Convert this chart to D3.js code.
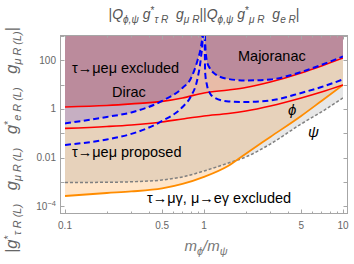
<!DOCTYPE html>
<html>
<head>
<meta charset="utf-8">
<script src="https://cdn.jsdelivr.net/npm/d3@7"></script>
<style>
body { margin: 0; background: #fff; }
svg text { font-family: "Liberation Sans", Arial, sans-serif; }
</style>
</head>
<body>
<svg id="chart" width="354" height="264"></svg>
<script>
// ratio m_phi / m_psi
const xs = [0.1, 0.2, 0.3, 0.5, 0.7, 1, 1.5, 2, 3, 5, 7, 10];
const diracUpper = [1.21, 1.39, 1.61, 2.04, 2.84, 4.55, 6.05, 7.67, 12.9, 30.3, 58.9, 125];
const diracLower = [0.158, 0.19, 0.22, 0.292, 0.388, 0.515, 0.653, 0.828, 1.33, 2.84, 5.0, 9.7];
const phiLine = [2.63e-4, 3.49e-4, 4.03e-4, 5.37e-4, 8.2e-4, 1.6e-3, 4.6e-3, 0.0145, 0.0705, 0.515, 2.13, 9.7];
const psiLine = [9.44e-4, 9.6e-4, 1.01e-3, 1.2e-3, 1.6e-3, 2.8e-3, 6.0e-3, 0.0106, 0.036, 0.241, 0.753, 2.84];

// majorana curves blow up at the resonance x = 1, so two branches each
const xsLeft = [0.1, 0.2, 0.3, 0.5, 0.7, 0.8, 0.9, 0.95, 0.98, 0.995];
const majUpperL = [0.253, 0.47, 0.72, 2.13, 7.3, 17, 104, 355, 1500, 1e5];
const majLowerL = [0.033, 0.0556, 0.094, 0.32, 1.2, 3.1, 18.9, 126, 900, 1e5];
const xsRight = [1.005, 1.02, 1.05, 1.1, 1.2, 1.5, 2, 3, 5, 7, 10];
const majUpperR = [1e5, 500, 90, 48, 27.5, 17, 14.9, 16.4, 33, 65, 144];
const majLowerR = [1e5, 30, 9.7, 4.55, 2.84, 2.04, 1.94, 2.24, 4.55, 8.0, 16.4];

const xTicksMajor = [0.1, 0.5, 1, 5, 10];
const xTicksMinor = [0.2, 0.3, 0.4, 0.6, 0.7, 0.8, 0.9, 2, 3, 4, 6, 7, 8, 9];
const yTicks = [1e-4, 1e-3, 1e-2, 1e-1, 1, 10, 100, 1000];
const yLabels = { "0.0001": "10^-4", "0.01": "0.01", "1": "1", "100": "100" };

const svg = d3.select("#chart");

// frame and plot area
const fx0 = 60, fx1 = 348, fy0 = 35, fy1 = 214;
const x = d3.scaleLog().domain([0.1, 10]).range([65, 343]);
const y = d3.scaleLog().domain([Math.pow(10, -4.28), 1000]).range([213, 36]);
const yTop = 30;

svg.append("clipPath").attr("id", "plotClip")
    .append("rect").attr("x", 65).attr("y", 36).attr("width", 278).attr("height", 177);

const pts = (xv, yv) => xv.map((d, i) => [d, yv[i]]);

const areaUp = d3.area()
    .x(d => x(d[0]))
    .y0(d => y(d[1]))
    .y1(yTop)
    .curve(d3.curveMonotoneX);

const line = d3.line()
    .x(d => x(d[0]))
    .y(d => y(d[1]))
    .curve(d3.curveMonotoneX);

const g = svg.append("g").attr("clip-path", "url(#plotClip)");

// light fills above phi and psi
g.append("path").attr("d", areaUp(pts(xs, phiLine)))
    .attr("fill", "rgb(255,150,40)").attr("fill-opacity", 0.25);
g.append("path").attr("d", areaUp(pts(xs, psiLine)))
    .attr("fill", "rgb(128,128,128)").attr("fill-opacity", 0.19);

// excluded by tau -> mu e mu
g.append("path").attr("d", areaUp(pts(xs, diracUpper))).attr("fill", "#e8bba7");
g.append("path").attr("d", areaUp(pts(xsLeft, majUpperL))).attr("fill", "#c6afc2");
g.append("path").attr("d", areaUp(pts(xsRight, majUpperR))).attr("fill", "#c6afc2");

const majClip = svg.append("clipPath").attr("id", "majClip");
majClip.append("path").attr("d", areaUp(pts(xsLeft, majUpperL)));
majClip.append("path").attr("d", areaUp(pts(xsRight, majUpperR)));
g.append("g").attr("clip-path", "url(#majClip)")
    .append("path").attr("d", areaUp(pts(xs, diracUpper))).attr("fill", "#bb8b9c");

// lines
g.append("path").attr("d", line(pts(xs, psiLine)))
    .attr("fill", "none").attr("stroke", "#808080").attr("stroke-width", 1.5).attr("stroke-dasharray", "3,2");
g.append("path").attr("d", line(pts(xs, phiLine)))
    .attr("fill", "none").attr("stroke", "#ff8c00").attr("stroke-width", 1.8);
[diracUpper, diracLower].forEach(v => {
    g.append("path").attr("d", line(pts(xs, v)))
        .attr("fill", "none").attr("stroke", "#ff0000").attr("stroke-width", 1.6);
});
[[xsLeft, majUpperL], [xsLeft, majLowerL], [xsRight, majUpperR], [xsRight, majLowerR]].forEach(c => {
    g.append("path").attr("d", line(pts(c[0], c[1])))
        .attr("fill", "none").attr("stroke", "#0000ff").attr("stroke-width", 2).attr("stroke-dasharray", "6,3.5");
});

// frame
svg.append("rect").attr("x", fx0 + 0.5).attr("y", fy0 + 0.5)
    .attr("width", fx1 - fx0 - 1).attr("height", fy1 - fy0 - 1)
    .attr("fill", "none").attr("stroke", "#a6a6a6");

// ticks on all four sides
const tickCol = "#a6a6a6";
xTicksMajor.concat(xTicksMinor).forEach(t => {
    const len = xTicksMajor.includes(t) ? 4.5 : 2.5;
    const px = Math.round(x(t)) + 0.5;
    svg.append("line").attr("x1", px).attr("x2", px).attr("y1", fy1).attr("y2", fy1 - len).attr("stroke", tickCol);
    svg.append("line").attr("x1", px).attr("x2", px).attr("y1", fy0).attr("y2", fy0 + len).attr("stroke", tickCol);
});
yTicks.forEach(t => {
    const py = Math.round(y(t)) + 0.5;
    svg.append("line").attr("x1", fx0).attr("x2", fx0 + 4.5).attr("y1", py).attr("y2", py).attr("stroke", tickCol);
    svg.append("line").attr("x1", fx1).attr("x2", fx1 - 4.5).attr("y1", py).attr("y2", py).attr("stroke", tickCol);
});

// tick labels
svg.append("g").selectAll("text").data(xTicksMajor).join("text")
    .attr("x", d => x(d)).attr("y", 229)
    .attr("text-anchor", "middle").attr("font-size", 10).attr("fill", "#666")
    .text(d => d);

yTicks.filter(t => yLabels[String(t)]).forEach(t => {
    const lab = yLabels[String(t)];
    const tx = svg.append("text").attr("x", 56).attr("y", y(t) + 3.5)
        .attr("text-anchor", "end").attr("font-size", 10).attr("fill", "#666");
    if (lab.includes("^")) {
        const p = lab.split("^");
        tx.append("tspan").text(p[0]);
        tx.append("tspan").attr("dy", -4).attr("font-size", 7.5).text(p[1].replace("-", "\u2212"));
    } else {
        tx.text(lab);
    }
});

// rich text helper: parts are [text, options]
function rich(sel, parts, subSize) {
    let cur = 0;
    parts.forEach(p => {
        const o = p[1] || {};
        const target = o.sub ? 4 : (o.sup ? -5 : 0);
        const ts = sel.append("tspan").attr("dy", target - cur).text(p[0]);
        cur = target;
        if (o.sub || o.sup) ts.attr("font-size", subSize || "0.72em");
        if (o.i) ts.attr("font-style", "italic");
    });
}

// title
const title = svg.append("text").attr("x", 204).attr("y", 19)
    .attr("text-anchor", "middle").attr("font-size", 14).attr("fill", "#555")
    .attr("xml:space", "preserve");
rich(title, [
    ["|"], ["Q", {i: 1}], ["\u03d5,\u03c8", {sub: 1, i: 1}], [" g", {i: 1}], ["*", {sup: 1}],
    ["\u03c4 R", {sub: 1, i: 1}], ["  g", {i: 1}], ["\u03bc R", {sub: 1, i: 1}],
    ["||"], ["Q", {i: 1}], ["\u03d5,\u03c8", {sub: 1, i: 1}], [" g", {i: 1}], ["*", {sup: 1}],
    ["\u03bc R", {sub: 1, i: 1}], ["  g", {i: 1}], ["e R", {sub: 1, i: 1}], ["|"]
]);

// y label
const ylab = svg.append("text").attr("transform", "translate(17,140) rotate(-90)")
    .attr("text-anchor", "middle").attr("font-size", 16.5).attr("fill", "#666")
    .attr("xml:space", "preserve");
rich(ylab, [
    ["|g", {i: 1}], ["*", {sup: 1}], ["\u03c4 R (L)", {sub: 1, i: 1}],
    ["   g", {i: 1}], ["\u03bc R (L)", {sub: 1, i: 1}],
    ["   g", {i: 1}], ["*", {sup: 1}], ["e R (L)", {sub: 1, i: 1}],
    ["   g", {i: 1}], ["\u03bc R (L)", {sub: 1, i: 1}], ["|"]
], "0.66em");

// x label
const xlab = svg.append("text").attr("x", 206).attr("y", 251)
    .attr("text-anchor", "middle").attr("font-size", 15).attr("fill", "#777");
rich(xlab, [["m", {i: 1}], ["\u03d5", {sub: 1, i: 1}], ["/m", {i: 1}], ["\u03c8", {sub: 1, i: 1}]]);

// region labels
const labels = [
    ["\u03c4\u2192\u03bce\u03bc excluded", 72, 73],
    ["Dirac", 112, 97],
    ["Majoranac", 238, 61],
    ["\u03c4\u2192\u03bce\u03bc proposed", 72, 157],
    ["\u03c4\u2192\u03bc\u03b3, \u03bc\u2192e\u03b3 excluded", 147, 203]
];
svg.append("g").selectAll("text").data(labels).join("text")
    .attr("x", d => d[1]).attr("y", d => d[2])
    .attr("font-size", 14.5).attr("fill", "#000")
    .text(d => d[0]);
svg.append("text").attr("x", 288).attr("y", 115).attr("font-size", 15).attr("font-style", "italic").text("\u03d5");
svg.append("text").attr("x", 308).attr("y", 137).attr("font-size", 15).attr("font-style", "italic").text("\u03c8");
</script>
</body>
</html>
